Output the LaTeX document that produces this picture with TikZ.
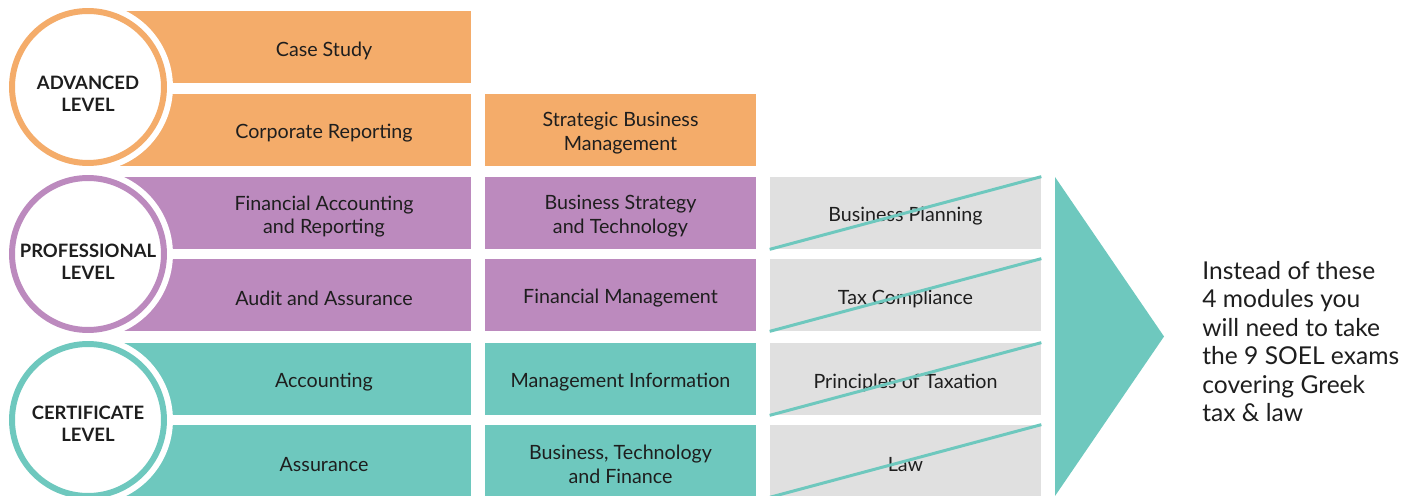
\documentclass[tikz,border=0pt]{standalone}
\usepackage{fontspec}
\setmainfont{Lato}
\usepackage{xcolor}
\definecolor{advorange}{HTML}{F4AC6A}
\definecolor{propurple}{HTML}{BC8ABE}
\definecolor{certteal}{HTML}{6EC8BE}
\definecolor{dropgrey}{HTML}{E0E0E0}
\definecolor{ink}{HTML}{1E1E1E}

\begin{document}
\begin{tikzpicture}[x=0.02cm, y=-0.02cm,
  module/.style={minimum height=1.44cm, minimum width=5.42cm, inner sep=0pt},
  core/.style={module, minimum width=5.88cm},
  tag/.style={align=center, inner sep=0pt, yshift=-2pt, text=ink, font=\fontsize{11.2}{13.6}\selectfont},
  level/.style={circle, minimum size=3.04cm, inner sep=0pt, fill=white, line width=3.4pt, preaction={draw=white, line width=10.2pt}},
  level tag/.style={align=center, inner sep=0pt, text=ink, font=\fontsize{10.5}{12.5}\selectfont\bfseries},
  strike/.style={certteal, line width=1.7pt}]
\useasboundingbox (0,0) rectangle (1412,496);

% Advanced level
\node[core, fill=advorange, label={[tag]center:Case Study}] (cs) at (324,47) {};
\node[core, fill=advorange, label={[tag]center:Corporate Reporting}] (cr) at (324,130) {};
\node[module, fill=advorange, label={[tag]center:{Strategic Business\\Management}}] (sbm) at (620.5,130) {};
\fill[advorange] (100,11) rectangle (cs.south west);
\fill[advorange] (100,94) rectangle (cr.south west);

% Professional level
\node[core, fill=propurple, label={[tag]center:{Financial Accounting\\and Reporting}}] (far) at (324,213) {};
\node[core, fill=propurple, label={[tag]center:Audit and Assurance}] (aa) at (324,295) {};
\node[module, fill=propurple, label={[tag]center:{Business Strategy\\and Technology}}] (bst) at (620.5,213) {};
\node[module, fill=propurple, label={[tag]center:Financial Management}] (fm) at (620.5,295) {};
\fill[propurple] (100,177) rectangle (far.south west);
\fill[propurple] (100,259) rectangle (aa.south west);

% Certificate level
\node[core, fill=certteal, label={[tag]center:Accounting}] (acc) at (324,379) {};
\node[core, fill=certteal, label={[tag]center:Assurance}] (asr) at (324,461) {};
\node[module, fill=certteal, label={[tag]center:Management Information}] (mi) at (620.5,379) {};
\node[module, fill=certteal, label={[tag]center:{Business, Technology\\and Finance}}] (btf) at (620.5,461) {};
\fill[certteal] (100,343) rectangle (acc.south west);
\fill[certteal] (100,425) rectangle (asr.south west);

% modules replaced by SOEL exams
\node[module, fill=dropgrey, label={[tag]center:Business Planning}] (bp) at (905.5,213) {};
\node[module, fill=dropgrey, label={[tag]center:Tax Compliance}] (tc) at (905.5,295) {};
\node[module, fill=dropgrey, label={[tag]center:Principles of Taxation}] (pt) at (905.5,379) {};
\node[module, fill=dropgrey, label={[tag]center:Law}] (law) at (905.5,461) {};
\foreach \m in {bp,tc,pt,law}
  \draw[strike] (\m.south west) -- (\m.north east);

% level circles
\node[level, draw=advorange, label={[level tag, yshift=-4pt]center:{ADVANCED\\LEVEL}}] (adv) at (88,87) {};
\node[level, draw=propurple, label={[level tag, yshift=-4.2pt]center:{PROFESSIONAL\\LEVEL}}] (pro) at (88,254) {};
\node[level, draw=certteal, label={[level tag, yshift=-2.3pt]center:{CERTIFICATE\\LEVEL}}] (cert) at (88,420) {};

% arrow and note
\fill[certteal] (1055,177) -- (1164,336.5) -- (1055,496) -- cycle;
\node[anchor=west, align=left, inner sep=0pt, text=ink, font=\fontsize{14}{16.2}\selectfont] (soel) at (1202,341.5)
  {Instead of these\\4 modules you\\will need to take\\the 9 SOEL exams\\covering Greek\\tax \& law};
\end{tikzpicture}
\end{document}
